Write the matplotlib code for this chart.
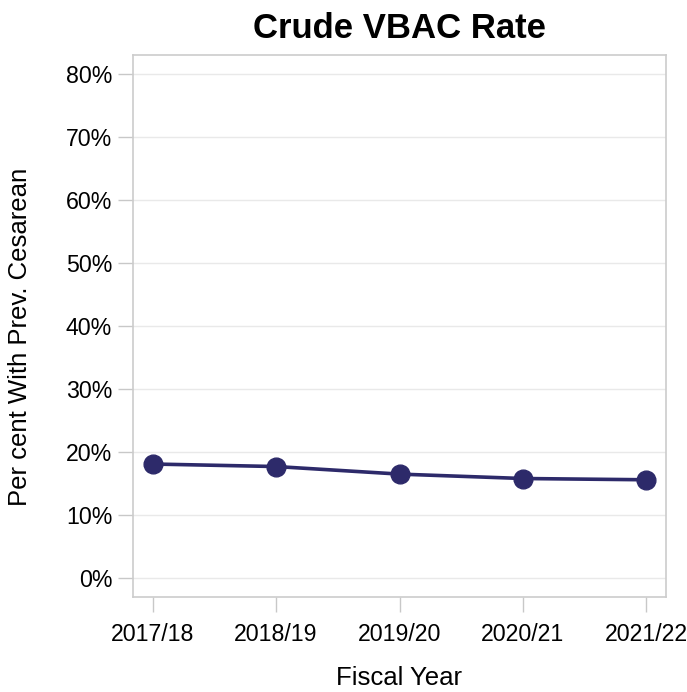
import numpy as np
import matplotlib
matplotlib.use("Agg")
import matplotlib.pyplot as plt
from matplotlib.ticker import PercentFormatter

# Crude VBAC rate by fiscal year (per cent)
years = ["2017/18", "2018/19", "2019/20", "2020/21", "2021/22"]
vbac_rate = [18.1, 17.7, 16.5, 15.8, 15.6]
y_ticks = [0, 10, 20, 30, 40, 50, 60, 70, 80]

plt.rcParams['font.family'] = ['Liberation Sans', 'DejaVu Sans']

fig = plt.figure(figsize=(6.87, 6.92), dpi=100)
ax = fig.add_axes([133 / 687, 1 - 597 / 692, (666 - 133) / 687, (597 - 55) / 692])

x = np.arange(len(years))
ax.plot(x, vbac_rate, color="#2d2a6a", linewidth=2.6, marker="o",
        markersize=13.5, zorder=3)

ax.set_xlim(-0.16, len(years) - 1 + 0.16)
ax.set_ylim(-3, 83)
ax.set_xticks(x)
ax.set_xticklabels(years)
ax.set_yticks(y_ticks)
ax.yaxis.set_major_formatter(PercentFormatter(decimals=0))

ax.grid(axis="y", color="#e9e9e9", linewidth=1.0)
ax.set_axisbelow(True)
for s in ax.spines.values():
    s.set_color("#cccccc")
    s.set_linewidth(1.2)

ax.tick_params(axis="both", colors="#c8c8c8", labelcolor="black",
               labelsize=16.7, length=11, width=1.0)
ax.tick_params(axis="x", pad=8)
ax.tick_params(axis="y", pad=4)

ax.set_title("Crude VBAC Rate", fontsize=25, fontweight="bold", pad=12)
ax.set_xlabel("Fiscal Year", fontsize=18.5, labelpad=14)
ax.set_ylabel("Per cent With Prev. Cesarean", fontsize=18.5)
ax.yaxis.set_label_coords(-0.19, 0.48)

fig.savefig("out.png", dpi=100)
